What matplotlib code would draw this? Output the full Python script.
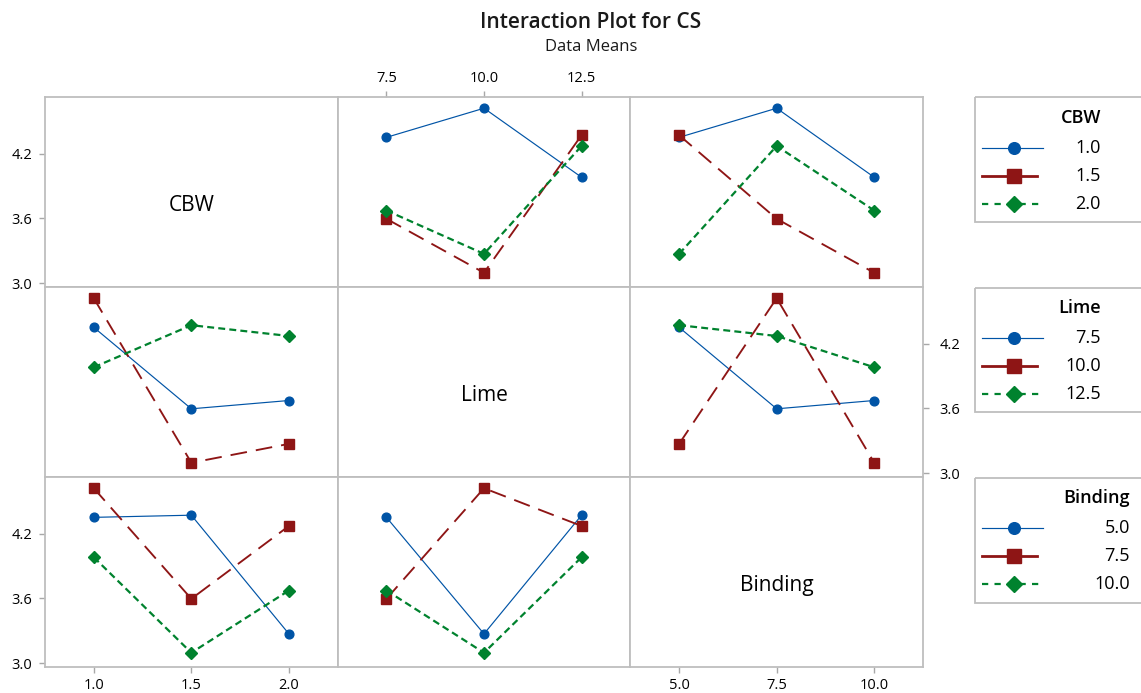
import numpy as np
import pandas as pd
import matplotlib
matplotlib.use('Agg')
import matplotlib.pyplot as plt
from matplotlib.patches import Rectangle

plt.rcParams['font.family'] = ['Open Sans', 'DejaVu Sans']
plt.rcParams['lines.scale_dashes'] = False

# ---- data (one run per factor combination) ----
factors = ['CBW', 'Lime', 'Binding']
cbw = [1.0, 1.0, 1.0, 1.5, 1.5, 1.5, 2.0, 2.0, 2.0]
lime = [7.5, 10.0, 12.5, 7.5, 10.0, 12.5, 7.5, 10.0, 12.5]
binding = [5.0, 7.5, 10.0, 7.5, 10.0, 5.0, 10.0, 5.0, 7.5]
cs = [4.35, 4.62, 3.98, 3.595, 3.095, 4.37, 3.672, 3.27, 4.27]

cbw_levels = [1.0, 1.5, 2.0]
lime_levels = [7.5, 10.0, 12.5]
binding_levels = [5.0, 7.5, 10.0]
cbw_labels = ['1.0', '1.5', '2.0']
lime_labels = ['7.5', '10.0', '12.5']
binding_labels = ['5.0', '7.5', '10.0']
y_ticks = [3.0, 3.6, 4.2]
y_tick_labels = ['3.0', '3.6', '4.2']

title = 'Interaction Plot for CS'
subtitle = 'Data Means'

levels = {'CBW': cbw_levels, 'Lime': lime_levels, 'Binding': binding_levels}
labels = {'CBW': cbw_labels, 'Lime': lime_labels, 'Binding': binding_labels}

df = pd.DataFrame({'CBW': cbw, 'Lime': lime, 'Binding': binding, 'CS': cs})

# ---- figure ----
W, H = 1141, 693
fig = plt.figure(figsize=(W / 100, H / 100), dpi=100)


def px_rect(x0, y0, x1, y1):
    return [x0 / W, 1 - y1 / H, (x1 - x0) / W, (y1 - y0) / H]


colors = ['#0054A6', '#8E1515', '#00822E']
styles = [
    dict(color=colors[0], lw=0.85, marker='o', ms=6.3),
    dict(color=colors[1], lw=1.35, marker='s', ms=7.0),
    dict(color=colors[2], lw=1.6, marker='D', ms=6.0),
]
plot_dashes = [None, (12, 6.5), (5, 3)]
legend_dashes = [None, None, (4.5, 4.5)]
legend_ends = [69, 63, 69]
legend_ms = [8.4, 9.6, 8.5]

grid_left, grid_right = 45, 923
row_edges = [97, 287, 477, 667]
col_w = (grid_right - grid_left) / 3
frame_col = '#BEBEBE'
tick_col = '#A8A8A8'
ylim = (2.963, 4.724)

for r, fr in enumerate(factors):
    for c, fc in enumerate(factors):
        x0 = grid_left + c * col_w
        ax = fig.add_axes(px_rect(x0, row_edges[r], x0 + col_w, row_edges[r + 1]))
        lv = levels[fc]
        step = lv[1] - lv[0]
        ax.set_xlim(lv[0] - 0.5 * step, lv[-1] + 0.5 * step)
        ax.set_ylim(*ylim)
        for s in ax.spines.values():
            s.set_color(frame_col)
            s.set_linewidth(1.3)
        ax.tick_params(which='both', length=0, labelleft=False, labelbottom=False,
                       labeltop=False, labelright=False)
        ax.set_xticks([])
        ax.set_yticks([])

        if r == c:
            ax.text(0.5, 0.43, fr, transform=ax.transAxes, ha='center', va='center',
                    fontsize=15, color='black')
        else:
            means = df.groupby([fr, fc])['CS'].mean()
            for i, g in enumerate(levels[fr]):
                sub = means.loc[g].reindex(lv)
                ln, = ax.plot(sub.index.values, sub.values, ls='-', **styles[i])
                if plot_dashes[i] is not None:
                    ln.set_dashes(plot_dashes[i])

        # ticks, Minitab-style alternating
        if (r == 0 and c == 0) or (r == 2 and c == 0):
            ax.set_yticks(y_ticks)
            ax.set_yticklabels(y_tick_labels)
            ax.tick_params(axis='y', left=True, labelleft=True, length=4, width=1,
                           color=tick_col, labelsize=10.5, pad=5, direction='out')
        if r == 1 and c == 2:
            ax.set_yticks(y_ticks)
            ax.set_yticklabels(y_tick_labels)
            ax.yaxis.set_ticks_position('right')
            ax.tick_params(axis='y', right=True, labelright=True, left=False, labelleft=False,
                           length=4, width=1, color=tick_col, labelsize=10.5, pad=8,
                           direction='out')
        if r == 0 and c == 1:
            ax.set_xticks(lv)
            ax.set_xticklabels(labels[fc])
            ax.xaxis.set_ticks_position('top')
            ax.tick_params(axis='x', top=True, labeltop=True, bottom=False, labelbottom=False,
                           length=4, width=1, color=tick_col, labelsize=10.5, pad=4,
                           direction='out')
        if r == 2 and c in (0, 2):
            ax.set_xticks(lv)
            ax.set_xticklabels(labels[fc])
            ax.tick_params(axis='x', bottom=True, labelbottom=True, length=4, width=1,
                           color=tick_col, labelsize=10.5, pad=4, direction='out')

# ---- legends (one per factor, boxes at the right, running off the edge) ----
leg_left = 974
leg_h = 126
text_right = {'CBW': 127, 'Lime': 127, 'Binding': 156}
for r, fr in enumerate(factors):
    top = row_edges[r]
    lax = fig.add_axes(px_rect(leg_left, top, leg_left + 200, top + leg_h))
    lax.set_xlim(0, 200)
    lax.set_ylim(leg_h, 0)
    lax.axis('off')
    lax.add_patch(Rectangle((0.5, 0.5), 198, leg_h - 1, fill=False, edgecolor=frame_col,
                            lw=1.3, clip_on=False))
    lax.text(text_right[fr], 21, fr, ha='right', va='center', fontsize=13,
             fontweight='semibold', color='black')
    for i, lab in enumerate(labels[fr]):
        yy = 51 + 28 * i
        st = styles[i]
        lw = 2.0 if i == 1 else st['lw']
        ln, = lax.plot([8, legend_ends[i]], [yy, yy], color=st['color'], lw=lw, ls='-')
        if legend_dashes[i] is not None:
            ln.set_dashes(legend_dashes[i])
        lax.plot([40], [yy], color=st['color'], marker=st['marker'], ms=legend_ms[i], ls='none')
        lax.text(text_right[fr], yy, lab, ha='right', va='center', fontsize=13, color='black')

fig.text(591 / W, 1 - 28 / H, title, ha='center', va='baseline', fontsize=15,
         fontweight='semibold', color='#1a1a1a')
fig.text(591 / W, 1 - 51 / H, subtitle, ha='center', va='baseline', fontsize=12,
         color='#1a1a1a')

fig.savefig('out.png', dpi=100, facecolor='white')
